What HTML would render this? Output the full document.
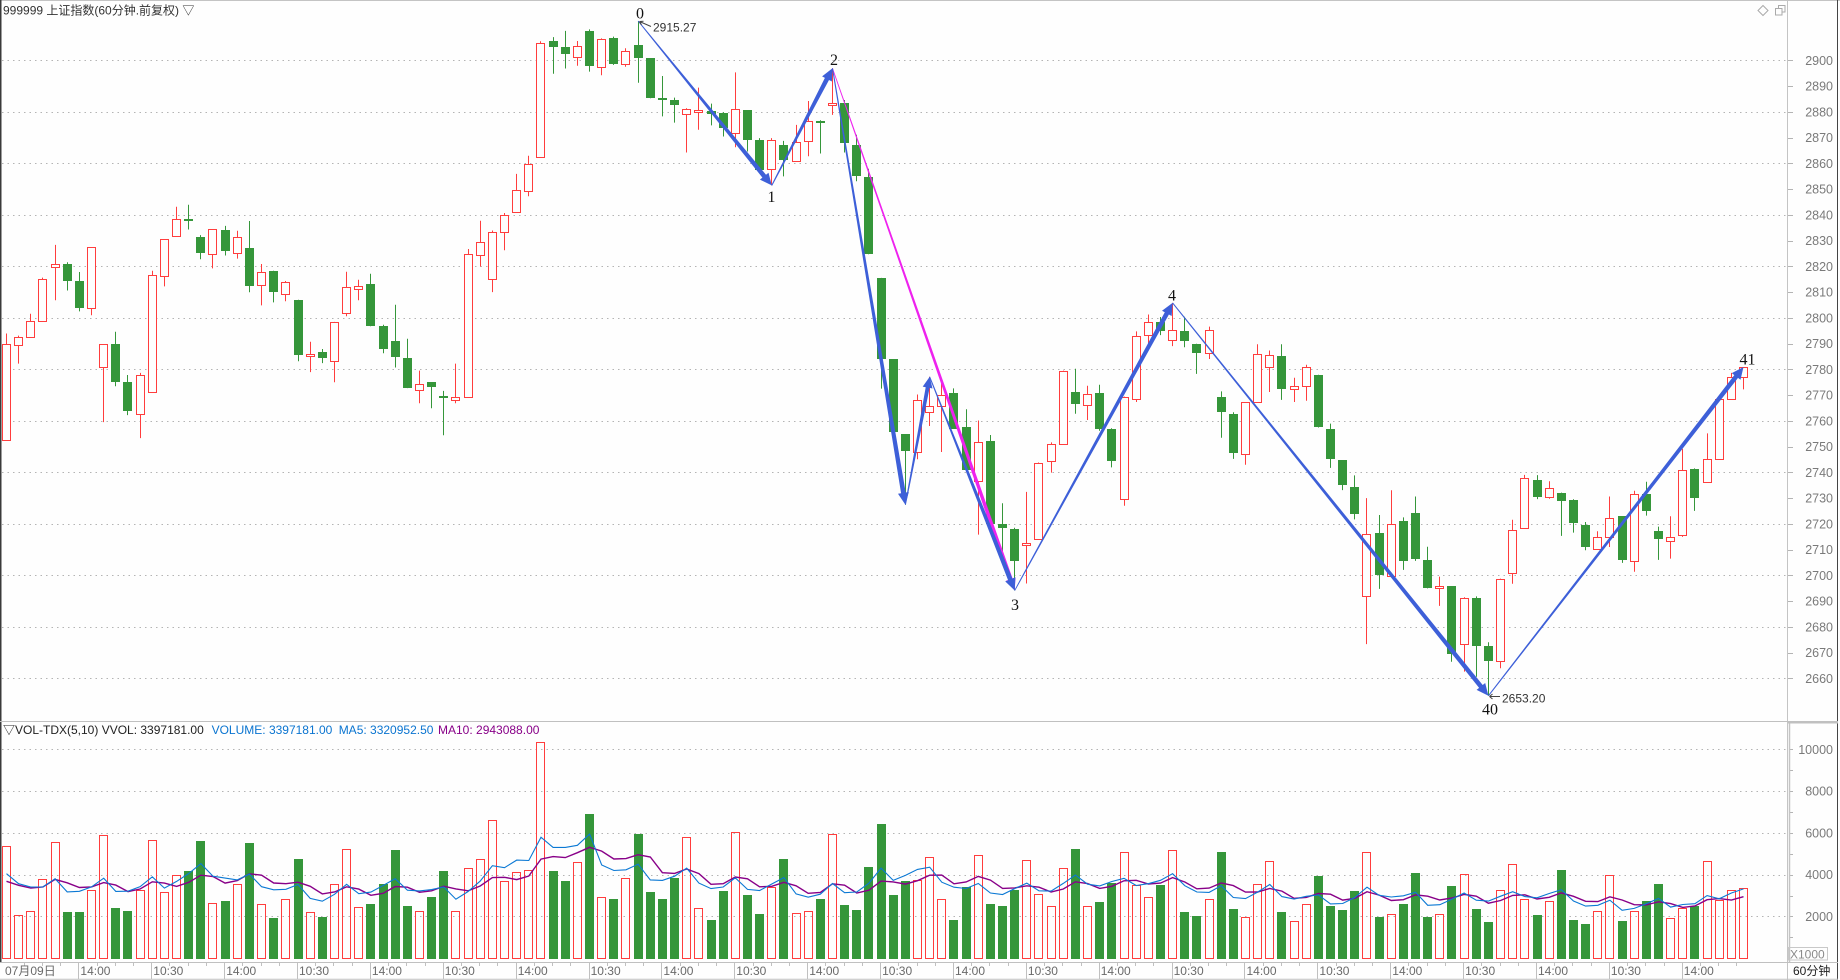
<!DOCTYPE html>
<html><head><meta charset="utf-8">
<style>
html,body{margin:0;padding:0;background:#fff;}
body{width:1840px;height:980px;overflow:hidden;position:relative;}
svg{position:absolute;left:0;top:0;}
text{font-family:"Liberation Sans","Noto Sans CJK SC",sans-serif;font-size:12px;}
.ax text{fill:#7a7a7a;font-size:12.5px;}
.xl text{fill:#6a6a6a;font-size:12px;}
.sf text{font-family:"Liberation Serif","Noto Serif CJK SC",serif;font-size:16px;fill:#111;}
</style></head><body>
<svg id="s" width="1840" height="980" xmlns="http://www.w3.org/2000/svg">
<rect width="1840" height="980" fill="#fefefe"/>
<g id="grid"></g>
<g id="dyn"></g>
<g id="ann"></g>
<!-- frame -->
<line x1="0" y1="0.5" x2="1840" y2="0.5" stroke="#c4c4c4"/>
<line x1="0.75" y1="0" x2="0.75" y2="962" stroke="#3a3a3a" stroke-width="1.5"/>
<line x1="1787.5" y1="0" x2="1787.5" y2="980" stroke="#c4c4c4"/>
<line x1="1789.5" y1="722" x2="1789.5" y2="962" stroke="#c4c4c4" stroke-width="1.5"/>
<line x1="1837.5" y1="0" x2="1837.5" y2="980" stroke="#444"/>
<line x1="0" y1="721.5" x2="1838" y2="721.5" stroke="#c0c0c0"/>
<line x1="1788" y1="722.8" x2="1838" y2="722.8" stroke="#c0c0c0" stroke-width="1.5"/>
<line x1="0" y1="962.5" x2="1838" y2="962.5" stroke="#c0c0c0"/>
<line x1="0" y1="979.3" x2="1838" y2="979.3" stroke="#c0c0c0"/>
<rect x="1788.5" y="947.5" width="39" height="12.5" fill="none" stroke="#c8c8c8"/>
<text x="1790" y="958.5" fill="#8a8a8a" style="font-size:12px">X1000</text>
<text x="1793" y="975" fill="#222" style="font-size:12px">60分钟</text>
<!-- top-right icons -->
<polygon points="1763,5.5 1768,10.5 1763,15.5 1758,10.5" fill="none" stroke="#aaa"/>
<rect x="1778.5" y="5.5" width="6.5" height="6.5" fill="#fefefe" stroke="#aaa"/>
<rect x="1775.5" y="8.5" width="6.5" height="6.5" fill="#fefefe" stroke="#aaa"/>
<!-- title -->
<text x="3" y="14.5" fill="#333">999999 上证指数(60分钟.前复权) ▽</text>
<!-- volume header -->
<text x="3" y="734" fill="#222">▽VOL-TDX(5,10) VVOL: 3397181.00</text>
<text x="211.6" y="734" fill="#0a74d0">VOLUME: 3397181.00</text>
<text x="338.7" y="734" fill="#0a74d0">MA5: 3320952.50</text>
<text x="438" y="734" fill="#880088">MA10: 2943088.00</text>
<!-- price axis labels -->
<g class="ax" text-anchor="end">
<text x="1833" y="64.9">2900</text><text x="1833" y="90.65">2890</text><text x="1833" y="116.4">2880</text>
<text x="1833" y="142.15">2870</text><text x="1833" y="167.9">2860</text><text x="1833" y="193.65">2850</text>
<text x="1833" y="219.4">2840</text><text x="1833" y="245.15">2830</text><text x="1833" y="270.9">2820</text>
<text x="1833" y="296.65">2810</text><text x="1833" y="322.4">2800</text><text x="1833" y="348.15">2790</text>
<text x="1833" y="373.9">2780</text><text x="1833" y="399.65">2770</text><text x="1833" y="425.4">2760</text>
<text x="1833" y="451.15">2750</text><text x="1833" y="476.9">2740</text><text x="1833" y="502.65">2730</text>
<text x="1833" y="528.4">2720</text><text x="1833" y="554.15">2710</text><text x="1833" y="579.9">2700</text>
<text x="1833" y="605.65">2690</text><text x="1833" y="631.4">2680</text><text x="1833" y="657.15">2670</text>
<text x="1833" y="682.9">2660</text>
<text x="1833" y="753.8">10000</text><text x="1833" y="795.5">8000</text><text x="1833" y="837.3">6000</text>
<text x="1833" y="879">4000</text><text x="1833" y="920.8">2000</text>
</g>
<!-- x axis labels -->
<g class="xl">
<text x="5" y="975">07月09日</text>
<text x="80.4" y="975">14:00</text><text x="153.3" y="975">10:30</text><text x="226.2" y="975">14:00</text>
<text x="299" y="975">10:30</text><text x="371.9" y="975">14:00</text><text x="444.8" y="975">10:30</text>
<text x="517.7" y="975">14:00</text><text x="590.6" y="975">10:30</text><text x="663.4" y="975">14:00</text>
<text x="736.3" y="975">10:30</text><text x="809.2" y="975">14:00</text><text x="882.1" y="975">10:30</text>
<text x="955" y="975">14:00</text><text x="1027.9" y="975">10:30</text><text x="1100.7" y="975">14:00</text>
<text x="1173.6" y="975">10:30</text><text x="1246.5" y="975">14:00</text><text x="1319.4" y="975">10:30</text>
<text x="1392.3" y="975">14:00</text><text x="1465.1" y="975">10:30</text><text x="1538" y="975">14:00</text>
<text x="1610.9" y="975">10:30</text><text x="1683.8" y="975">14:00</text>
</g>
<!-- wave labels -->
<g class="sf" text-anchor="middle">
<text x="640" y="18.3">0</text>
<text x="771.5" y="202">1</text>
<text x="834" y="65">2</text>
<text x="1015" y="610">3</text>
<text x="1172" y="300.7">4</text>
<text x="1490" y="714.5">40</text>
<text x="1747.5" y="364.5">41</text>
</g>
<path d="M639.5,21.5 L651,26.5 M639.5,21.5 L643.5,21.2 M639.5,21.5 L641.5,24.8" stroke="#444" fill="none"/>
<text x="653" y="31.5" fill="#333">2915.27</text>
<path d="M1489.5,696.5 L1500,696.5 M1489.5,696.5 L1492.5,694 M1489.5,696.5 L1492.5,699" stroke="#444" fill="none"/>
<text x="1502" y="702.5" fill="#333">2653.20</text>
</svg>
<script>
(function(){
const NS='http://www.w3.org/2000/svg';
const R='#ff3d3d', G='#35963a';
function el(tag,a,p){const e=document.createElementNS(NS,tag);for(const k in a)e.setAttribute(k,a[k]);p.appendChild(e);return e;}
const grid=document.getElementById('grid'),dyn=document.getElementById('dyn'),ann=document.getElementById('ann');
const X=i=>6.5+12.147*i;
const Y=p=>60.3+(2900-p)*2.575;
const VY=v=>958.2-v*0.020875;
// gridlines
for(let p=2900;p>=2660;p-=20){const y=Math.round(Y(p))+0.5;el('line',{x1:2,y1:y,x2:1786,y2:y,stroke:'#b4b4b4','stroke-dasharray':'1.5 4'},grid);}
for(let p=2900;p>=2660;p-=10){const y=Math.round(Y(p))+0.5;el('line',{x1:1788,y1:y,x2:1793,y2:y,stroke:'#b4b4b4'},grid);}
for(let v=2000;v<=10000;v+=2000){const y=Math.round(VY(v))+0.5;el('line',{x1:2,y1:y,x2:1786,y2:y,stroke:'#b4b4b4','stroke-dasharray':'1.5 4'},grid);}
for(let v=1000;v<=10000;v+=1000){const y=Math.round(VY(v))+0.5;el('line',{x1:1790,y1:y,x2:1793,y2:y,stroke:'#b4b4b4'},grid);}
// x ticks
for(let k=1;k<=23;k++){const x=Math.round(5.5+72.882*k)+0.5;el('line',{x1:x,y1:962,x2:x,y2:979,stroke:'#c0c0c0'},grid);}
for(let j=1;j<97;j++){if(j%4===0)continue;const x=Math.round(5.5+18.2205*j)+0.5;if(x>1786)break;el('line',{x1:x,y1:962,x2:x,y2:966,stroke:'#c0c0c0'},grid);}
const D=[
[2752.6,2793.9,2752.6,2789.8,1],[2789.3,2793.1,2782.2,2792.6,1],[2792.6,2801.6,2792.6,2798.8,1],[2798.8,2815.6,2798.8,2815.0,1],
[2819.7,2828.3,2806.8,2820.9,1],[2820.9,2821.6,2810.6,2814.1,0],[2814.4,2817.8,2802.5,2803.7,0],[2803.8,2827.4,2801.0,2827.4,1],
[2781.0,2789.8,2759.5,2789.8,1],[2790.0,2794.6,2773.4,2775.0,0],[2775.2,2777.8,2762.2,2763.7,0],[2762.7,2778.6,2753.3,2777.8,1],
[2771.2,2818.3,2771.2,2816.6,1],[2816.2,2830.5,2812.2,2830.5,1],[2831.7,2843.1,2831.7,2838.3,1],[2838.4,2843.9,2834.3,2837.8,0],
[2831.4,2832.1,2822.7,2825.0,0],[2824.7,2834.4,2819.2,2834.4,1],[2834.2,2835.7,2824.2,2825.8,0],[2825.1,2833.8,2823.0,2831.3,1],
[2827.2,2837.6,2809.9,2812.2,0],[2812.7,2820.9,2804.8,2817.8,1],[2818.3,2818.3,2806.0,2809.9,0],[2809.2,2814.3,2806.4,2813.9,1],
[2807.0,2807.0,2783.1,2785.5,0],[2785.2,2790.7,2778.9,2786.0,1],[2786.9,2787.9,2782.4,2784.3,0],[2783.3,2798.4,2775.0,2798.4,1],
[2801.9,2817.9,2800.6,2811.9,1],[2811.2,2814.8,2806.8,2812.3,1],[2813.2,2817.1,2796.7,2796.7,0],[2797.0,2797.3,2786.2,2787.8,0],
[2791.1,2805.1,2780.7,2784.7,0],[2784.5,2791.9,2772.7,2772.7,0],[2772.0,2779.5,2766.8,2774.3,1],[2774.9,2774.9,2764.9,2773.0,0],
[2769.8,2771.6,2754.4,2768.8,0],[2768.1,2782.2,2766.8,2769.4,1],[2769.3,2826.7,2769.3,2824.8,1],[2824.4,2837.7,2819.9,2829.5,1],
[2815.1,2833.9,2810.0,2833.3,1],[2833.3,2840.7,2826.2,2839.9,1],[2841.1,2855.9,2841.1,2849.6,1],[2849.2,2862.9,2847.2,2859.7,1],
[2862.4,2907.4,2862.4,2906.6,1],[2907.4,2909.0,2894.8,2905.0,0],[2905.0,2911.4,2896.8,2902.3,0],[2901.2,2907.5,2897.9,2905.4,1],
[2911.4,2912.0,2895.6,2897.9,0],[2897.3,2908.5,2894.2,2908.1,1],[2908.5,2909.2,2898.2,2898.6,0],[2898.4,2904.7,2897.5,2903.5,1],
[2905.8,2915.27,2891.3,2901.0,0],[2900.9,2900.9,2885.3,2885.5,0],[2885.5,2893.9,2878.2,2885.1,0],[2884.5,2885.5,2875.8,2882.6,0],
[2879.3,2881.4,2864.2,2881.0,1],[2880.1,2889.4,2873.0,2880.6,1],[2880.2,2883.2,2874.7,2879.3,0],[2879.6,2879.8,2870.4,2873.9,0],
[2871.7,2895.3,2866.2,2881.0,1],[2880.6,2880.6,2864.6,2869.1,0],[2869.1,2869.8,2857.5,2857.5,0],[2857.8,2869.8,2851.4,2869.1,1],
[2867.2,2868.7,2854.9,2861.1,0],[2860.7,2874.9,2860.7,2868.3,1],[2868.5,2884.2,2862.7,2876.4,1],[2876.5,2876.7,2863.8,2876.2,0],
[2882.6,2896.9,2878.8,2883.3,1],[2883.3,2884.6,2864.2,2867.7,0],[2867.2,2871.1,2853.0,2855.2,0],[2854.8,2857.9,2824.7,2824.7,0],
[2815.5,2815.5,2772.5,2784.1,0],[2783.9,2783.9,2755.7,2755.7,0],[2754.7,2754.7,2727.4,2748.3,0],[2747.7,2770.2,2745.1,2768.2,1],
[2763.6,2777.1,2758.0,2765.9,1],[2765.9,2776.4,2747.9,2770.0,1],[2770.7,2772.6,2757.0,2757.0,0],[2757.5,2764.5,2741.0,2741.0,0],
[2736.8,2760.1,2715.8,2751.9,1],[2752.1,2754.5,2720.0,2720.0,0],[2719.9,2728.0,2707.6,2718.5,0],[2718.0,2718.5,2694.1,2705.7,0],
[2711.9,2732.4,2696.8,2712.7,1],[2714.0,2743.8,2714.0,2743.8,1],[2744.2,2751.6,2739.9,2750.8,1],[2750.8,2779.5,2750.8,2779.5,1],
[2771.3,2780.2,2762.7,2766.5,0],[2766.3,2773.6,2760.3,2770.4,1],[2770.9,2774.0,2756.1,2756.7,0],[2756.7,2757.1,2741.9,2744.4,0],
[2729.8,2769.4,2727.0,2769.4,1],[2768.6,2794.7,2767.3,2792.9,1],[2793.4,2801.3,2789.9,2798.4,1],[2798.4,2800.3,2793.3,2795.0,0],
[2791.5,2805.8,2789.0,2795.3,1],[2795.0,2800.4,2788.6,2791.0,0],[2789.9,2789.9,2778.2,2786.4,0],[2786.4,2796.6,2784.0,2795.3,1],
[2769.4,2771.4,2753.4,2763.4,0],[2762.8,2763.3,2745.2,2747.5,0],[2747.3,2767.3,2742.9,2767.3,1],[2767.3,2789.7,2767.3,2786.0,1],
[2781.0,2787.3,2771.2,2785.7,1],[2785.3,2789.7,2768.1,2772.5,0],[2772.2,2776.7,2767.3,2773.5,1],[2773.6,2781.8,2767.8,2781.0,1],
[2777.6,2777.9,2757.4,2757.4,0],[2757.0,2758.9,2741.7,2745.0,0],[2744.6,2744.6,2733.1,2735.0,0],[2734.1,2738.8,2721.7,2723.8,0],
[2691.8,2730.0,2673.3,2716.2,1],[2716.3,2723.4,2694.7,2700.2,0],[2699.8,2733.0,2699.8,2720.1,1],[2721.2,2722.5,2702.1,2705.7,0],
[2724.1,2730.6,2705.6,2706.2,0],[2706.1,2711.1,2694.9,2695.1,0],[2694.9,2699.5,2688.1,2695.9,1],[2695.8,2695.8,2666.4,2669.5,0],
[2673.5,2691.5,2662.6,2691.0,1],[2691.1,2691.8,2660.6,2672.6,0],[2672.5,2674.0,2653.2,2666.8,0],[2666.6,2698.7,2663.9,2698.7,1],
[2700.7,2721.6,2696.7,2717.7,1],[2718.5,2739.0,2718.5,2737.6,1],[2737.2,2738.9,2729.6,2730.5,0],[2730.5,2736.5,2729.7,2734.0,1],
[2732.1,2732.1,2715.3,2728.8,0],[2729.1,2729.5,2716.6,2720.3,0],[2719.4,2720.7,2709.7,2711.0,0],[2710.4,2717.1,2710.4,2714.9,1],
[2715.0,2730.6,2711.0,2722.4,1],[2722.9,2722.9,2704.8,2705.8,0],[2705.7,2732.8,2701.4,2731.7,1],[2731.7,2736.3,2723.2,2725.0,0],
[2717.3,2718.9,2706.0,2714.1,0],[2713.5,2722.9,2706.5,2715.0,1],[2715.8,2749.1,2714.9,2741.0,1],[2741.1,2741.5,2725.0,2730.0,0],
[2736.3,2755.1,2736.3,2745.2,1],[2745.2,2768.5,2745.2,2768.5,1],[2768.5,2778.6,2768.5,2777.0,1],[2777.0,2780.9,2772.2,2780.9,1]
];
const V=[5380,2047,2238,3809,5570,2206,2206,3285,5904,2396,2254,3285,5666,3190,3999,4158,5634,2666,2730,3571,
5539,2619,1920,2857,4729,2190,1968,3571,5237,2476,2587,3539,5205,2492,2285,2920,4158,2285,4333,4761,
6618,3682,4110,4237,10347,4158,3682,4618,6919,2952,2825,3856,5967,3158,2825,3825,5809,2381,1825,3206,
6047,3015,2111,3396,4729,2143,2238,2825,5951,2539,2301,4348,6443,3015,3714,3761,4856,2857,1825,3396,
4951,2587,2492,3253,4713,3095,2523,4333,5253,2523,2682,3587,5094,3523,2952,3491,5189,2206,2015,2857,
5110,2349,1952,3571,4666,2206,1762,2619,3920,2492,2301,3206,5094,1968,2095,2587,4063,1968,2095,3444,
4047,2349,1730,3285,4523,2857,2063,2761,4206,1825,1635,2238,3999,1777,2285,2730,3539,1904,2396,2492,
4666,2777,3285,3380];
// candles
D.forEach((d,i)=>{
  const [o,h,l,c,r]=d;const cx=Math.floor(X(i))+0.5;
  const yh=Y(h),yl=Y(l);
  let top=Math.round(Y(Math.max(o,c))),bot=Math.round(Y(Math.min(o,c)));
  if(bot-top<2)bot=top+2;
  if(r){
    if(yh<top)el('line',{x1:cx,y1:yh.toFixed(1),x2:cx,y2:top+0.5,stroke:R},dyn);
    if(yl>bot+0.5)el('line',{x1:cx,y1:bot+0.5,x2:cx,y2:yl.toFixed(1),stroke:R},dyn);
    el('rect',{x:cx-4,y:top+0.5,width:8,height:bot-top,fill:'#fefefe',stroke:R},dyn);
  }else{
    el('line',{x1:cx,y1:yh.toFixed(1),x2:cx,y2:yl.toFixed(1),stroke:G},dyn);
    el('rect',{x:cx-4.5,y:top,width:9,height:bot-top,fill:G},dyn);
  }
});
// volume
V.forEach((v,i)=>{
  const cx=Math.floor(X(i))+0.5;const t=Math.round(VY(v));
  if(D[i][4])el('rect',{x:cx-4,y:t+0.5,width:8,height:958-t,fill:'none',stroke:R},dyn);
  else el('rect',{x:cx-4.5,y:t,width:9,height:959-t,fill:G},dyn);
});
const P=[3957,3508,3329,1920,3871,4427,3033,3809,3586];
const A=P.concat(V);
function ma(n){const pts=[];for(let i=0;i<V.length;i++){let s=0;for(let k=0;k<n;k++)s+=A[i+9-k];pts.push(X(i).toFixed(1)+','+VY(s/n).toFixed(1));}return pts.join(' ');}
el('polyline',{points:ma(10),fill:'none',stroke:'#880088','stroke-width':1.4},dyn);
el('polyline',{points:ma(5),fill:'none',stroke:'#0a78d4','stroke-width':1.1},dyn);
// arrows
function arrow(p,q,col,w0,w1,hl,hw){
  w0=w0||0.5;w1=w1||2.3;hl=hl||12;hw=hw||5.5;
  const [x1,y1]=p,[x2,y2]=q;const dx=x2-x1,dy=y2-y1,L=Math.hypot(dx,dy),ux=dx/L,uy=dy/L,nx=-uy,ny=ux;
  const ax=x2-ux*hl,ay=y2-uy*hl;
  const pts=[[x1+nx*w0,y1+ny*w0],[ax+nx*w1,ay+ny*w1],[ax+nx*hw,ay+ny*hw],[x2,y2],[ax-nx*hw,ay-ny*hw],[ax-nx*w1,ay-ny*w1],[x1-nx*w0,y1-ny*w0]];
  el('polygon',{points:pts.map(z=>z[0].toFixed(1)+','+z[1].toFixed(1)).join(' '),fill:col},ann);
}
const pt=(i,p)=>[X(i),Y(p)];
const P0=pt(52,2915.27),P1=pt(63,2851.4),P2=pt(68,2896.9),Pa=pt(74,2727.4),Pb=pt(76,2777.1),P3=pt(83,2694.1),P4=pt(96,2805.8),P40=pt(122,2653.2),P41=pt(143,2780.9);
const B='#3d5fd8',M='#ee22ee';
arrow(P2,P3,M,0.4,2.0,12,5);
arrow(P0,P1,B);
arrow(P1,P2,B);
arrow(P2,Pa,B);
arrow(Pa,Pb,B,0.5,2.0,11,5);
arrow(Pb,P3,B);
arrow(P3,P4,B);
arrow(P4,P40,B);
arrow(P40,P41,B);
})();
</script>
</body></html>
